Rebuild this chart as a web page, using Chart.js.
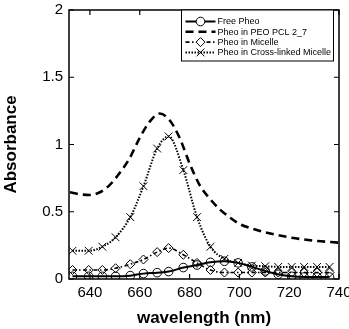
<!DOCTYPE html>
<html>
<head>
<meta charset="utf-8">
<script src="https://cdn.jsdelivr.net/npm/chart.js@4.4.1/dist/chart.umd.min.js"></script>
<style>
  html, body { margin: 0; padding: 0; background: #fff; }
  #chart { display: block; }
</style>
</head>
<body>
<canvas id="chart" width="349" height="329"></canvas>
<script>
// marker wavelengths shared by the three marked series (nm)
const markerNm = [633, 639.5, 645, 650.3, 656.2, 661.5, 667, 671.6, 677.5, 683,
                  688.4, 694, 699.5, 705, 710.4, 715.6, 721, 726, 731.2, 736.2];

const freePheo = [0.02, 0.02, 0.02, 0.02, 0.025, 0.04, 0.047, 0.055, 0.085, 0.104,
                  0.124, 0.132, 0.12, 0.09, 0.06, 0.035, 0.02, 0.015, 0.015, 0.015];
const micelle = [0.067, 0.067, 0.067, 0.08, 0.11, 0.145, 0.2, 0.23, 0.18, 0.12,
                 0.067, 0.048, 0.048, 0.048, 0.048, 0.048, 0.048, 0.048, 0.048, 0.048];
const crossLinked = [0.21, 0.21, 0.24, 0.31, 0.46, 0.69, 0.97, 1.06, 0.81, 0.46,
                     0.24, 0.15, 0.12, 0.10, 0.095, 0.09, 0.09, 0.09, 0.09, 0.09];

// dashed curve has no markers, so it is sampled separately
const peoNm = [632, 636, 640, 644, 648, 652, 656, 660, 664, 668, 672, 676, 680,
               684, 688, 692, 696, 700, 706, 712, 720, 730, 740];
const peoPcl = [0.645, 0.63, 0.625, 0.645, 0.70, 0.79, 0.90, 1.05, 1.17, 1.23, 1.18,
                1.05, 0.86, 0.70, 0.60, 0.52, 0.46, 0.41, 0.37, 0.34, 0.31, 0.285, 0.27];

const seriesNames = ['Free Pheo', 'Pheo in PEO PCL 2_7', 'Pheo in Micelle', 'Pheo in Cross-linked Micelle'];
const xTicks = [640, 660, 680, 700, 720, 740];
const yTicks = [0, 0.5, 1, 1.5, 2];

const FONT = "'Liberation Sans', Arial, sans-serif";

function pts(xs, ys) {
  return xs.map((x, i) => ({ x: x, y: ys[i] }));
}

// box around plot with inward tick marks on all four sides
const frame = {
  id: 'frame',
  afterDatasetsDraw(chart) {
    const { ctx, chartArea: a, scales } = chart;
    ctx.save();
    ctx.strokeStyle = '#000';
    ctx.lineWidth = 1.5;
    ctx.setLineDash([]);
    ctx.strokeRect(a.left, a.top, a.right - a.left, a.bottom - a.top);
    ctx.lineWidth = 1.2;
    ctx.beginPath();
    xTicks.forEach(v => {
      const x = scales.x.getPixelForValue(v);
      ctx.moveTo(x, a.bottom); ctx.lineTo(x, a.bottom - 5);
      ctx.moveTo(x, a.top); ctx.lineTo(x, a.top + 5);
    });
    yTicks.forEach(v => {
      const y = scales.y.getPixelForValue(v);
      ctx.moveTo(a.left, y); ctx.lineTo(a.left + 5, y);
      ctx.moveTo(a.right, y); ctx.lineTo(a.right - 5, y);
    });
    ctx.stroke();
    ctx.restore();
  }
};

// legend drawn like the original: line sample with a marker in the middle
const boxLegend = {
  id: 'boxLegend',
  afterDraw(chart) {
    const { ctx, chartArea: a } = chart;
    const left = a.left + 112.5, top = a.top, w = 152, h = 51;
    ctx.save();
    ctx.fillStyle = '#fff';
    ctx.fillRect(left, top, w, h);
    ctx.strokeStyle = '#000';
    ctx.lineWidth = 1;
    ctx.strokeRect(left, top, w, h);
    chart.data.datasets.forEach((ds, i) => {
      const y = top + 11.5 + i * 10.3;
      ctx.strokeStyle = '#000';
      ctx.lineWidth = ds.borderWidth;
      ctx.setLineDash(ds.borderDash || []);
      ctx.beginPath();
      ctx.moveTo(left + 4, y);
      ctx.lineTo(left + 34, y);
      ctx.stroke();
      ctx.setLineDash([]);
      if (ds.pointRadius > 0) {
        ctx.lineWidth = ds.pointBorderWidth;
        ctx.fillStyle = '#fff';
        Chart.helpers.drawPoint(ctx, {
          pointStyle: ds.pointStyle, rotation: 0,
          radius: ds.pointRadius, borderWidth: ds.pointBorderWidth
        }, left + 19, y);
      }
      ctx.fillStyle = '#000';
      ctx.font = '9px ' + FONT;
      ctx.textBaseline = 'middle';
      ctx.textAlign = 'left';
      ctx.fillText(ds.label, left + 36, y + 0.5);
    });
    ctx.restore();
  }
};

new Chart(document.getElementById('chart'), {
  type: 'line',
  data: {
    datasets: [
      {
        label: seriesNames[0], data: pts(markerNm, freePheo),
        borderColor: '#000', borderWidth: 2, borderDash: [],
        pointStyle: 'circle', pointRadius: 4.3, pointBorderWidth: 1,
        pointBorderColor: '#000', pointBackgroundColor: 'rgba(0,0,0,0)'
      },
      {
        label: seriesNames[1], data: pts(peoNm, peoPcl),
        borderColor: '#000', borderWidth: 2.6, borderDash: [8, 5],
        pointRadius: 0
      },
      {
        label: seriesNames[2], data: pts(markerNm, micelle),
        borderColor: '#000', borderWidth: 1.6, borderDash: [4, 2.5, 1.5, 2.5],
        pointStyle: 'rectRot', pointRadius: 4.5, pointBorderWidth: 1,
        pointBorderColor: '#000', pointBackgroundColor: 'rgba(0,0,0,0)'
      },
      {
        label: seriesNames[3], data: pts(markerNm, crossLinked),
        borderColor: '#000', borderWidth: 2, borderDash: [1.5, 1.5],
        pointStyle: 'crossRot', pointRadius: 5.5, pointBorderWidth: 1,
        pointBorderColor: '#000', pointBackgroundColor: 'rgba(0,0,0,0)'
      }
    ]
  },
  options: {
    responsive: false,
    animation: false,
    devicePixelRatio: 1,
    layout: { padding: { top: 10, right: 10, left: 0, bottom: 0 } },
    elements: { line: { cubicInterpolationMode: 'monotone' } },
    plugins: { legend: { display: false }, tooltip: { enabled: false } },
    scales: {
      x: {
        type: 'linear', min: 631.6, max: 740,
        grid: { display: false, drawTicks: false },
        border: { display: false },
        afterBuildTicks: s => { s.ticks = xTicks.map(v => ({ value: v })); },
        afterFit: s => { s.height = 50; s.paddingLeft = 0; s.paddingRight = 0; },
        ticks: {
          autoSkip: false, maxRotation: 0, padding: 5,
          color: '#000', font: { family: FONT, size: 15 },
          callback: v => String(v)
        },
        title: {
          display: true, text: 'wavelength (nm)', color: '#000',
          padding: { top: 0, bottom: 0 },
          font: { family: FONT, size: 17, weight: 'bold' }
        }
      },
      y: {
        type: 'linear', min: 0, max: 2,
        grid: { display: false, drawTicks: false },
        border: { display: false },
        afterBuildTicks: s => { s.ticks = yTicks.map(v => ({ value: v })); },
        afterFit: s => { s.width = 69; s.paddingTop = 0; s.paddingBottom = 0; },
        ticks: {
          padding: 6,
          color: '#000', font: { family: FONT, size: 15 },
          callback: v => String(v)
        },
        title: {
          display: true, text: 'Absorbance', color: '#000',
          padding: { top: 1, bottom: 0 },
          font: { family: FONT, size: 17, weight: 'bold' }
        }
      }
    }
  },
  plugins: [frame, boxLegend]
});
</script>
</body>
</html>
